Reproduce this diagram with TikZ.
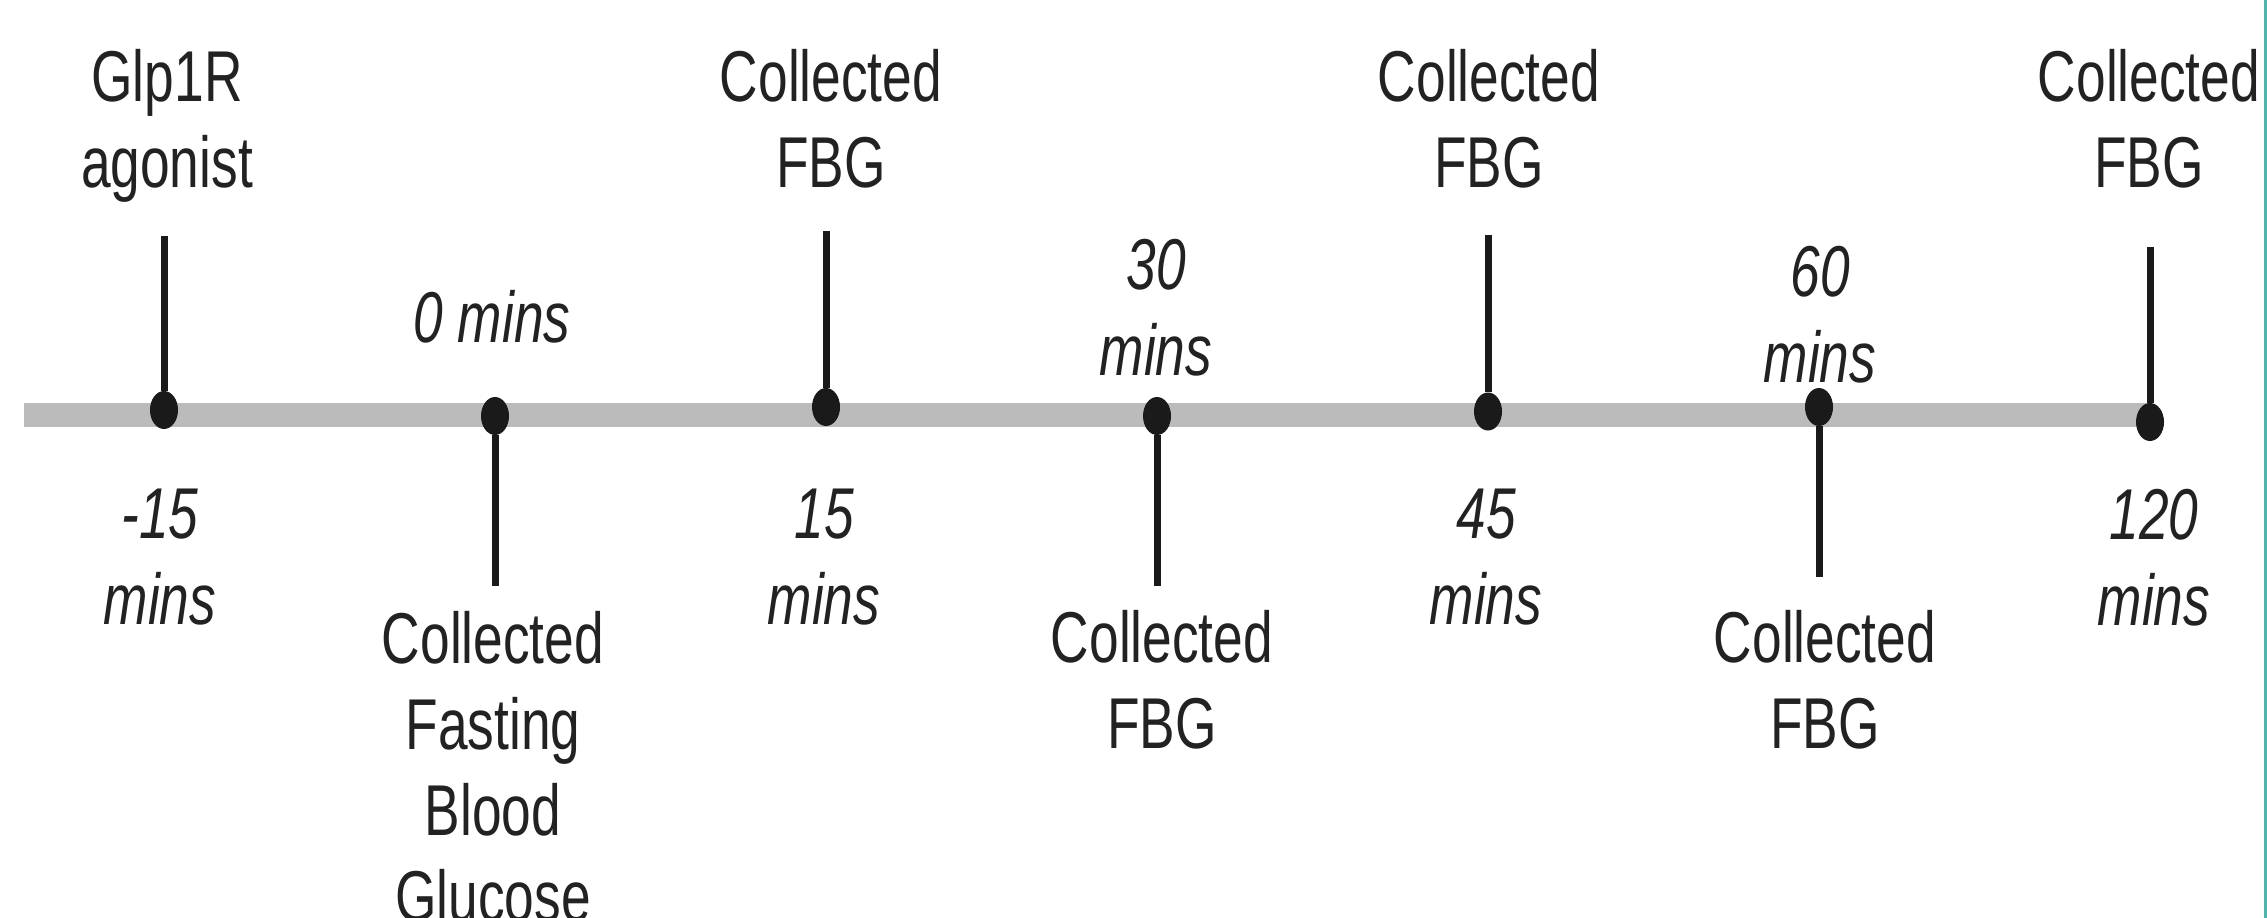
\documentclass[tikz,border=0pt]{standalone}
\usepackage{fontspec}
\setmainfont{Liberation Sans}[FakeStretch=0.74]
\usetikzlibrary{shapes.geometric}
\definecolor{ink}{HTML}{1A1A1A}
\definecolor{txt}{HTML}{222222}
\definecolor{barc}{HTML}{BBBBBB}
\definecolor{edgec}{HTML}{4DB6AC}
\begin{document}
\begin{tikzpicture}[x=1pt,y=-1pt,
  lbl/.style={font=\fontsize{72}{86}\selectfont, text=txt, align=center, anchor=base, inner sep=0pt},
  tim/.style={lbl, font=\fontsize{72}{86}\selectfont\itshape},
  dot/.style={ellipse, fill=ink, minimum width=28pt, minimum height=38pt, inner sep=0pt},
  stem/.style={draw=ink, line width=7pt},
  barline/.style={draw=barc, line width=24pt}]
\fill[white] (0,0) rectangle (2267,918);
\useasboundingbox (0,0) rectangle (2267,918);
\fill[edgec] (2264,0) rectangle (2267,918);
% bar
\coordinate (barL) at (24,415);
\coordinate (barR) at (2150,415);
\draw[barline] (barL) -- (barR);
% dots
\node[dot] (d1) at (164,410) {};
\node[dot] (d2) at (495,416) {};
\node[dot] (d3) at (826,407) {};
\node[dot] (d4) at (1157,416) {};
\node[dot] (d5) at (1488,411.5) {};
\node[dot] (d6) at (1819,407) {};
\node[dot] (d7) at (2150,422) {};
% stems
\coordinate (s1) at (164,236);
\coordinate (s2) at (495,585.5);
\coordinate (s3) at (826,231);
\coordinate (s4) at (1157,585.5);
\coordinate (s5) at (1488,235);
\coordinate (s6) at (1819,577);
\coordinate (s7) at (2150,247);
\draw[stem] (s1) -- (d1);
\draw[stem] (s2) -- (d2);
\draw[stem] (s3) -- (d3);
\draw[stem] (s4) -- (d4);
\draw[stem] (s5) -- (d5);
\draw[stem] (s6) -- (d6);
\draw[stem] (s7) -- (d7);
% labels (anchor = baseline of the last line)
\node[lbl] (t1) at (167,187.5) {Glp1R\\agonist};
\node[tim] (m1) at (160,624.5) {-15\\mins};
\node[tim] (m2) at (492,342) {0 mins};
\node[lbl] (b2) at (493,921) {Collected\\Fasting\\Blood\\Glucose};
\node[lbl] (t3) at (831,187.5) {Collected\\FBG};
\node[tim] (m3) at (824,624.5) {15\\mins};
\node[tim] (m4) at (1156,375) {30\\mins};
\node[lbl] (b4) at (1162,748) {Collected\\FBG};
\node[lbl] (t5) at (1489,187.5) {Collected\\FBG};
\node[tim] (m5) at (1486,624.5) {45\\mins};
\node[tim] (m6) at (1820,382.7) {60\\mins};
\node[lbl] (b6) at (1825,748) {Collected\\FBG};
\node[lbl] (t7) at (2149,187.5) {Collected\\FBG};
\node[tim] (m7) at (2154,625) {120\\mins};
\end{tikzpicture}
\end{document}
